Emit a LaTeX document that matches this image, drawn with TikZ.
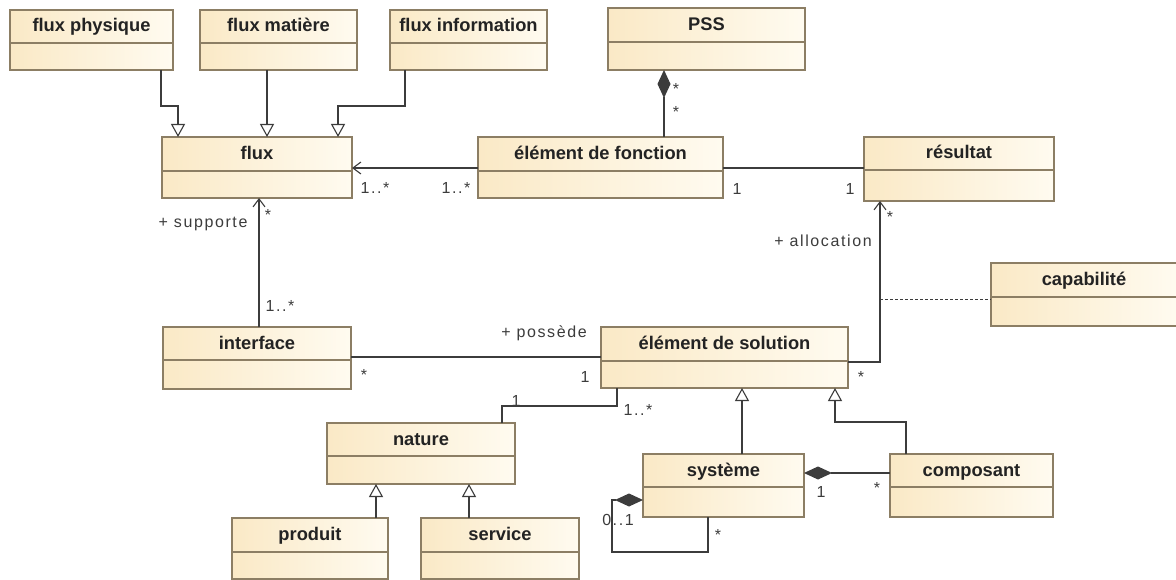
\documentclass[tikz,border=0pt]{standalone}
\usepackage{fontspec}
\setmainfont{Liberation Sans}
\newfontfamily\labelfont[LetterSpace=10]{Liberation Sans}
\usetikzlibrary{arrows.meta}
\definecolor{clsL}{RGB}{250,233,198}
\definecolor{clsR}{RGB}{255,251,240}
\definecolor{clsB}{RGB}{140,126,100}
\definecolor{ln}{RGB}{60,60,60}
\definecolor{txt}{RGB}{35,35,35}
\tikzset{
  cls/.style={draw=clsB, line width=1.1pt, left color=clsL, right color=clsR, rectangle, inner sep=0pt, outer sep=0pt},
  divider/.style={draw=clsB, line width=1.1pt},
  clsname/.style={font=\bfseries\fontsize{18.3}{19}\selectfont, text=txt, inner sep=0pt, text height=12pt, text depth=1pt},
  conn/.style={draw=ln, line width=1.1pt},
  gen/.style={conn, -{Triangle[open, length=13pt, width=14pt, fill=white]}},
  nav/.style={conn, -{Straight Barb[length=8pt, width=12pt]}},
  comp/.style={conn, {Diamond[length=28pt, width=13pt, fill=ln]}-},
  dep/.style={draw=ln, line width=0.9pt, dash pattern=on 3pt off 2pt},
  mult/.style={font=\labelfont\fontsize{16}{17}\selectfont, text=ln, inner sep=0pt},
}
\newcommand\umlclass[7]{%
  \node[cls, anchor=north west, minimum width=#4pt-#2pt, minimum height=#5pt-#3pt] (#1) at (#2,#3) {};
  \draw[divider] (#2,#6) -- (#4,#6);
  \node[clsname] at ({(#2+#4)/2},{(#3+#6)/2}) {#7};
}
\begin{document}
\begin{tikzpicture}[x=1pt, y=-1pt]
\fill[white] (0,0) rectangle (1176,580);
\useasboundingbox (0,0) rectangle (1176,580);
% classes
\umlclass{fphys}{10}{10}{173}{70}{43}{flux physique}
\umlclass{fmat}{200}{10}{357}{70}{43}{flux matière}
\umlclass{finfo}{390}{10}{547}{70}{43}{flux information}
\umlclass{pss}{608}{8}{805}{70}{42}{PSS}
\umlclass{flux}{162}{137}{352}{198}{171}{flux}
\umlclass{fonc}{478}{137}{723}{198}{171}{élément de fonction}
\umlclass{res}{864}{137}{1054}{201}{170}{résultat}
\umlclass{cap}{991}{263}{1177}{326}{297}{capabilité}
\umlclass{iface}{163}{327}{351}{389}{360}{interface}
\umlclass{esol}{601}{327}{848}{388}{361}{élément de solution}
\umlclass{nature}{327}{423}{515}{484}{456}{nature}
\umlclass{sys}{643}{454}{804}{517}{487}{système}
\umlclass{compo}{890}{454}{1053}{517}{487}{composant}
\umlclass{produit}{232}{518}{388}{579}{552}{produit}
\umlclass{service}{421}{518}{579}{579}{552}{service}
% generalizations to flux
\draw[gen] (fphys.south -| 161,0) |- (178,106) -- (flux.north -| 178,0);
\draw[gen] (fmat.south -| 267,0) -- (flux.north -| 267,0);
\draw[gen] (finfo.south -| 405,0) |- (338,106) -- (flux.north -| 338,0);
% associations
\draw[nav] (fonc.west |- 0,168) -- (flux.east |- 0,168);
\draw[conn] (fonc.east |- 0,168) -- (res.west |- 0,168);
\draw[comp] (pss.south -| 664,0) -- (fonc.north -| 664,0);
\draw[nav] (iface.north -| 259,0) -- (flux.south -| 259,0);
\draw[conn] (iface.east |- 0,357) -- (esol.west |- 0,357);
\draw[nav] (esol.east |- 0,362) -| (res.south -| 880,0);
\coordinate (ac) at (880,299);
\draw[dep] (ac) -- (cap.west |- 0,299);
\draw[conn] (nature.north -| 502,0) |- (617,406) -- (esol.south -| 617,0);
\draw[gen] (produit.north -| 376,0) -- (nature.south -| 376,0);
\draw[gen] (service.north -| 469,0) -- (nature.south -| 469,0);
\draw[gen] (sys.north -| 742,0) -- (esol.south -| 742,0);
\draw[gen] (compo.north -| 906,0) |- (835,422) -- (esol.south -| 835,0);
\draw[comp] (sys.east |- 0,473) -- (compo.west |- 0,473);
\draw[comp] (sys.west |- 0,500) -| (612,552) -| (sys.south -| 708,0);
% labels
\node[mult] (m1) at (676,89) {*};
\node[mult] (m2) at (676,112) {*};
\node[mult] (m3) at (375,188) {1..*};
\node[mult] (m4) at (456,188) {1..*};
\node[mult] (m5) at (737,189) {1};
\node[mult] (m6) at (850,189) {1};
\node[mult] (m7) at (203,224) {+ supporte};
\node[mult] (m8) at (268,215) {*};
\node[mult] (m9) at (280,306) {1..*};
\node[mult] (m10) at (544,333) {+ possède};
\node[mult] (m11) at (364,375) {*};
\node[mult] (m12) at (585,377) {1};
\node[mult] (m13) at (516,401) {1};
\node[mult] (m14) at (638,410) {1..*};
\node[mult] (m15) at (823,241) {+ allocation};
\node[mult] (m16) at (890,217) {*};
\node[mult] (m17) at (861,377) {*};
\node[mult] (m18) at (821,492) {1};
\node[mult] (m19) at (877,488) {*};
\node[mult] (m20) at (618,520) {0..1};
\node[mult] (m21) at (718,535) {*};
\end{tikzpicture}
\end{document}
